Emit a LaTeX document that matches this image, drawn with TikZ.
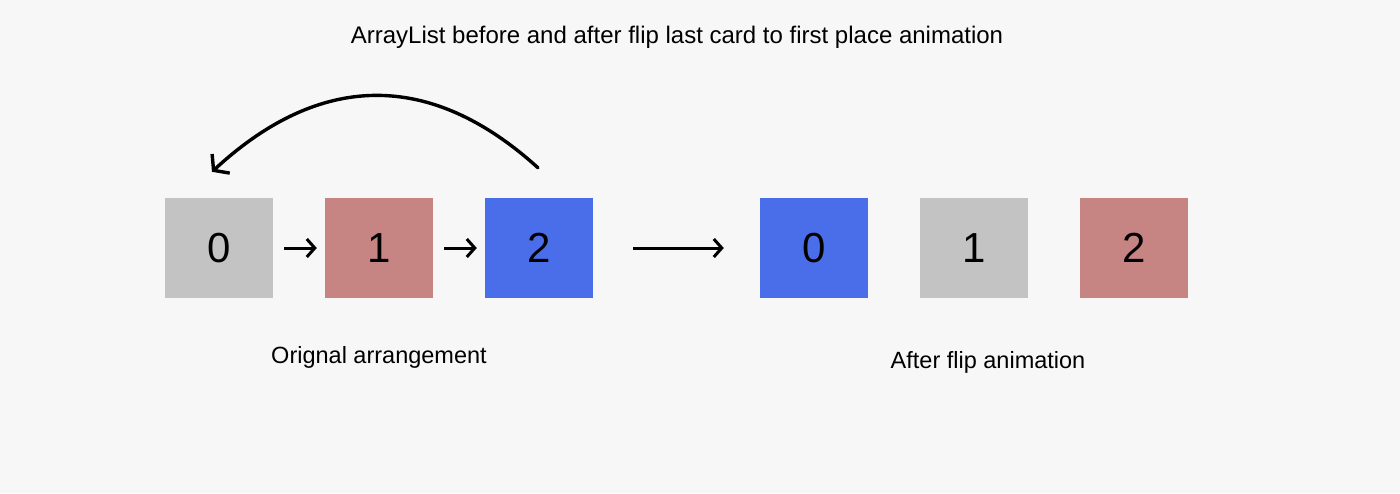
\documentclass[tikz,border=0pt]{standalone}
\usepackage{fontspec}
\setmainfont{Liberation Sans}
\usetikzlibrary{arrows.meta,positioning,calc}
\definecolor{bgpaper}{RGB}{247,247,247}
\definecolor{cardgray}{RGB}{195,195,195}
\definecolor{cardrose}{RGB}{198,132,130}
\definecolor{cardblue}{RGB}{74,110,234}

\tikzset{
  card/.style={minimum width=108pt, minimum height=100pt, inner sep=0pt,
    font=\fontsize{42}{46}\selectfont},
  caption/.style={font=\fontsize{23.5}{28}\selectfont},
  link/.style={line width=3pt, -{Straight Barb[length=8pt,width=18pt]}},
}

\begin{document}
\begin{tikzpicture}[x=1pt, y=-1pt]
  \fill[bgpaper] (0,0) rectangle (1400,493);
  \useasboundingbox (0,0) rectangle (1400,493);

  \node[caption, font=\fontsize{24}{28}\selectfont] (title) at (677,37) {ArrayList before and after flip last card to first place animation};

  % original arrangement
  \node[card, fill=cardgray] (a0) at (219,248) {0};
  \node[card, fill=cardrose] (a1) at (379,248) {1};
  \node[card, fill=cardblue] (a2) at (539,248) {2};
  \draw[link] ([xshift=11pt]a0.east) -- ([xshift=-8pt]a1.west);
  \draw[link] ([xshift=11pt]a1.east) -- ([xshift=-8pt]a2.west);
  \node[caption] (orig) at (379,357) {Orignal arrangement};

  % flip from last to first
  \coordinate (tail) at ($(a2.north)+(-1,-30)$);
  \coordinate (tip) at ($(a0.north)+(-7,-26)$);
  \draw[line width=3.4pt, line cap=round, -{Straight Barb[length=10pt,width=26pt]}]
    (tail) .. controls (430,70) and (320,72) .. (tip);

  % after flip
  \node[card, fill=cardblue] (b0) at (814,248) {0};
  \node[card, fill=cardgray] (b1) at (974,248) {1};
  \node[card, fill=cardrose] (b2) at (1134,248) {2};
  \draw[link] ([xshift=40pt]a2.east) -- ([xshift=-36pt]b0.west);
  \node[caption] (after) at (988,362) {After flip animation};
\end{tikzpicture}
\end{document}
